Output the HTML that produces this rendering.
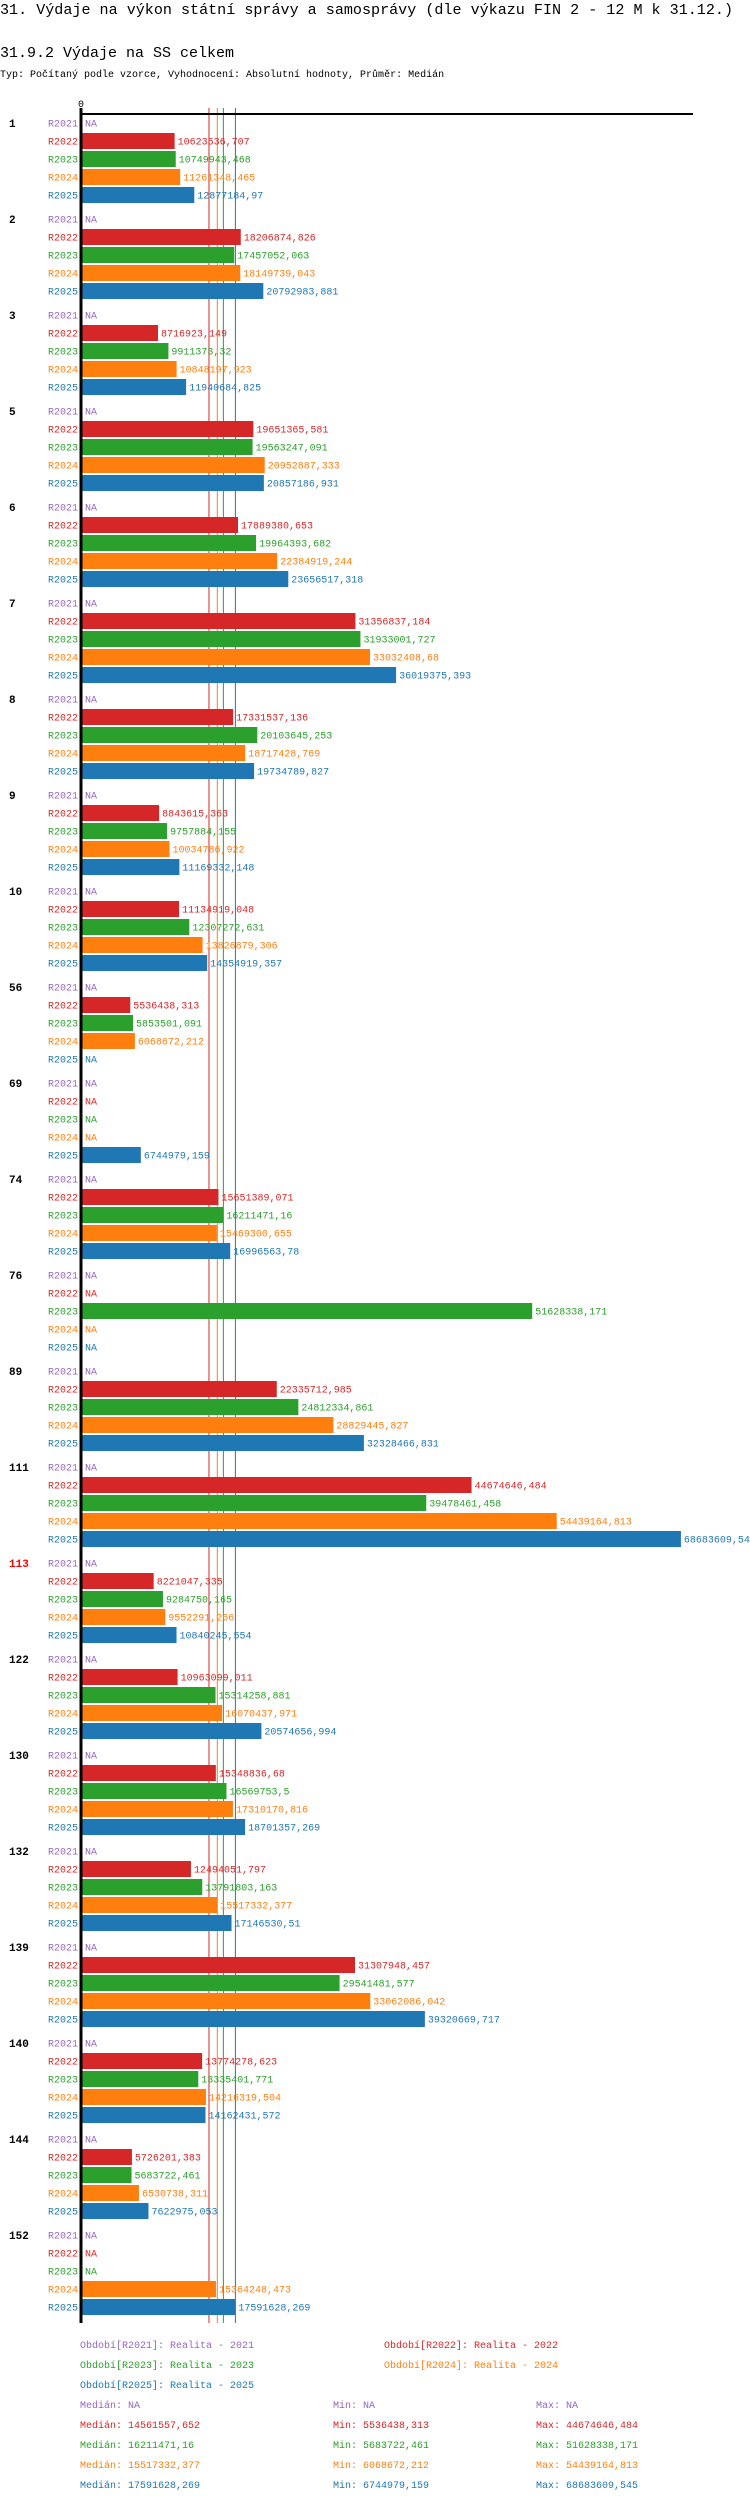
<!DOCTYPE html>
<html><head><meta charset="utf-8">
<style>
html,body{margin:0;padding:0;background:#fff;width:750px;height:2502px;overflow:hidden}
svg text{font-family:"Liberation Mono",monospace}
</style></head>
<body>
<svg id="chart" width="750" height="2502" xmlns="http://www.w3.org/2000/svg">
<text x="0" y="14" font-size="15" textLength="733" lengthAdjust="spacingAndGlyphs">31. Výdaje na výkon státní správy a samosprávy (dle výkazu FIN 2 - 12 M k 31.12.)</text>
<text x="0" y="57" font-size="15">31.9.2 Výdaje na SS celkem</text>
<text x="0" y="77" font-size="10">Typ: Počítaný podle vzorce, Vyhodnocení: Absolutní hodnoty, Průměr: Medián</text>
<g id="grid"></g>
<g id="bars"></g>
<g id="axes"></g>
<g id="legend"></g>
</svg>
<script>
const groups = ["1","2","3","5","6","7","8","9","10","56","69","74","76","89","111","113","122","130","132","139","140","144","152"];
const periods = ["R2021","R2022","R2023","R2024","R2025"];
const s2021 = [null,null,null,null,null,null,null,null,null,null,null,null,null,null,null,null,null,null,null,null,null,null,null];
const s2022 = [10623536.707,18206874.826,8716923.149,19651365.581,17889380.653,31356837.184,17331537.136,8843615.363,11134919.048,5536438.313,null,15651389.071,null,22335712.985,44674646.484,8221047.335,10963099.011,15348836.68,12494051.797,31307948.457,13774278.623,5726201.383,null];
const s2023 = [10749943.468,17457052.063,9911373.32,19563247.091,19964393.682,31933001.727,20103645.253,9757884.155,12307272.631,5853501.091,null,16211471.16,51628338.171,24812334.861,39478461.458,9284750.165,15314258.881,16569753.5,13791803.163,29541481.577,13335401.771,5683722.461,null];
const s2024 = [11261348.465,18149739.043,10848197.923,20952887.333,22384919.244,33032408.68,18717428.769,10034786.922,13826879.306,6068672.212,null,15469300.655,null,28829445.827,54439164.813,9552291.266,16070437.971,17310170.816,15517332.377,33062086.042,14216319.504,6530738.311,15364248.473];
const s2025 = [12877184.97,20792983.881,11940684.825,20857186.931,23656517.318,36019375.393,19734789.827,11169332.148,14354919.357,null,6744979.159,16996563.78,null,32328466.831,68683609.545,10840245.554,20574656.994,18701357.269,17146530.51,39320669.717,14162431.572,7622975.053,17591628.269];
const medians = [null,14561557.652,16211471.16,15517332.377,17591628.269];
const mins = [null,5536438.313,5683722.461,6068672.212,6744979.159];
const maxs = [null,44674646.484,51628338.171,54439164.813,68683609.545];
const highlightGroup = "113";

const series=[s2021,s2022,s2023,s2024,s2025];
const colors=["#9467bd","#d62728","#2ca02c","#ff7f0e","#1f77b4"];
const NS="http://www.w3.org/2000/svg";
const X0=82, SCALE=8.72e-6, TOP=123, ROW=18, GSTEP=96;
function xs(v){return X0+v*SCALE;}
function ys(g,p){return TOP+g*GSTEP+p*ROW;}
function fmt(v){return v==null?"NA":String(v).replace(".",",");}
function mk(tag,attrs,parent,txt){const e=document.createElementNS(NS,tag);for(const k in attrs)e.setAttribute(k,attrs[k]);if(txt!=null)e.textContent=txt;parent.appendChild(e);return e;}
const gGrid=document.getElementById("grid"),gBars=document.getElementById("bars"),gAxes=document.getElementById("axes"),gLeg=document.getElementById("legend");
const yEnd=ys(groups.length-1,4)+16;

medians.forEach((m,i)=>{ if(m==null)return;
  const l=mk("line",{x1:xs(m),x2:xs(m),y1:108,y2:yEnd,stroke:colors[i],"stroke-width":1},gGrid);
  
  
});

groups.forEach((g,gi)=>{
  const gl=mk("text",{x:9,y:ys(gi,0)+4,"font-size":11,"font-weight":"bold",fill:g===highlightGroup?"#ff0000":"#000"},gBars,g);
  
  
  periods.forEach((p,pi)=>{
    const cy=ys(gi,pi), v=series[pi][gi];
    const pl=mk("text",{x:78,y:cy+3.5,"font-size":10,fill:colors[pi],"text-anchor":"end"},gBars,p);
    
    
    let lx=85;
    if(v!=null){
      const r=mk("rect",{x:X0,y:cy-8,width:xs(v)-X0,height:16,fill:colors[pi]},gBars);
      
      
      lx=xs(v)+3;
    }
    const vl=mk("text",{x:lx,y:cy+3.5,"font-size":10,fill:colors[pi]},gBars,fmt(v));
    
    
  });
});

const ax=mk("line",{x1:80,x2:693,y1:114,y2:114,stroke:"#000","stroke-width":2},gAxes);


const ay=mk("line",{x1:81,x2:81,y1:108,y2:yEnd,stroke:"#000","stroke-width":3},gAxes);


const t0=mk("text",{x:81,y:107,"font-size":10,"text-anchor":"middle"},gAxes,"0");



const legPos=[[80,2348],[384,2348],[80,2368],[384,2368],[80,2388]];
periods.forEach((p,i)=>{
  const t=mk("text",{x:legPos[i][0],y:legPos[i][1],"font-size":10,fill:colors[i]},gLeg,"Období["+p+"]: Realita - "+p.slice(1));
  
  
  const y=2408+i*20;
  const a=mk("text",{x:80,y:y,"font-size":10,fill:colors[i]},gLeg,"Medián: "+fmt(medians[i]));
  
  
  const b=mk("text",{x:333,y:y,"font-size":10,fill:colors[i]},gLeg,"Min: "+fmt(mins[i]));
  
  
  const c=mk("text",{x:536,y:y,"font-size":10,fill:colors[i]},gLeg,"Max: "+fmt(maxs[i]));
  
  
});
</script>
</body></html>
